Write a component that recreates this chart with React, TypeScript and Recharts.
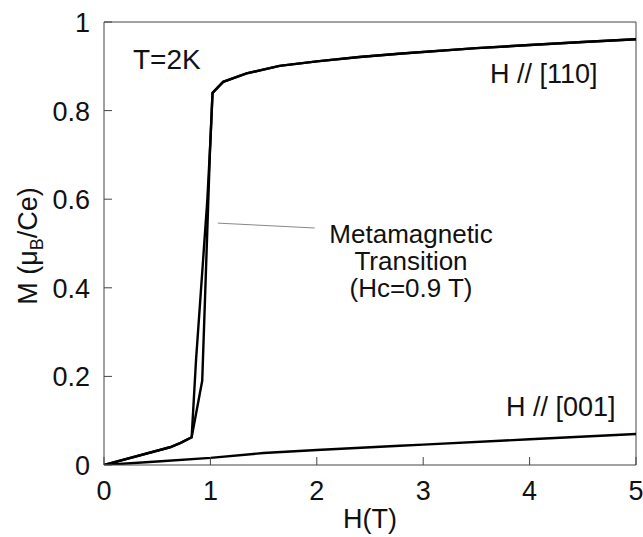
import { LineChart, Line, XAxis, YAxis, ReferenceLine } from 'recharts';

// H // [110], field-up sweep
const upH = [0, 0.62, 0.72, 0.824, 0.923, 0.95, 0.996, 1.02, 1.12, 1.34, 1.65, 2, 2.4, 2.8, 3.5, 4, 4.5, 5];
const upM = [0, 0.04, 0.05, 0.0625, 0.19, 0.38, 0.71, 0.84, 0.865, 0.884, 0.901, 0.911, 0.921, 0.929, 0.941, 0.948, 0.955, 0.961];

// H // [110], field-down sweep
const downH = [0, 0.62, 0.72, 0.824, 0.865, 0.971, 1.0, 1.02, 1.12, 1.34, 1.65, 2, 2.4, 2.8, 3.5, 4, 4.5, 5];
const downM = [0, 0.04, 0.05, 0.0625, 0.237, 0.598, 0.73, 0.84, 0.865, 0.884, 0.901, 0.911, 0.921, 0.929, 0.941, 0.948, 0.955, 0.961];

// H // [001]
const hardH = [0, 0.5, 1, 1.5, 2, 2.78, 3, 4, 5];
const hardM = [0, 0.008, 0.016, 0.027, 0.034, 0.0436, 0.046, 0.058, 0.07];

const xTicks = [0, 1, 2, 3, 4, 5];
const yTicks = [0, 0.2, 0.4, 0.6, 0.8, 1];
const noteLines = ['Metamagnetic', 'Transition', '(Hc=0.9 T)'];

const toRows = (hs: number[], ms: number[]) => hs.map((h, i) => ({ h, m: ms[i] }));

const FONT = '"Liberation Sans", Arial, Helvetica, sans-serif';
const AXIS = '#444';

const XTick = ({ x, y, payload }: any) => (
  <g>
    <line x1={x} y1={y} x2={x} y2={y - 8} stroke={AXIS} strokeWidth={1} />
    <text x={x} y={y + 35} textAnchor="middle" fontSize={27} fill="#111" fontFamily={FONT}>
      {payload.value}
    </text>
  </g>
);

const YTick = ({ x, y, payload }: any) => (
  <g>
    <line x1={x} y1={y} x2={x + 8} y2={y} stroke={AXIS} strokeWidth={1} />
    <text x={x - 14} y={y + 10} textAnchor="end" fontSize={27} fill="#111" fontFamily={FONT}>
      {payload.value}
    </text>
  </g>
);

export default function App() {
  return (
    <div style={{ position: 'absolute', left: 0, top: 0, background: '#fff' }}>
      <LineChart width={643} height={537} margin={{ top: 22, right: 7, left: 0, bottom: 0 }}>
        <XAxis
          type="number"
          dataKey="h"
          domain={[0, 5]}
          ticks={xTicks}
          tickSize={0}
          tickMargin={0}
          tickLine={false}
          tick={<XTick />}
          height={72}
          stroke={AXIS}
          allowDataOverflow
        />
        <YAxis
          type="number"
          dataKey="m"
          domain={[0, 1]}
          ticks={yTicks}
          tickSize={0}
          tickMargin={0}
          tickLine={false}
          tick={<YTick />}
          width={104}
          stroke={AXIS}
          allowDataOverflow
        />
        <ReferenceLine y={1} stroke={AXIS} strokeWidth={1} />
        <ReferenceLine x={5} stroke={AXIS} strokeWidth={1} />
        <ReferenceLine
          segment={[{ x: 1.07, y: 0.546 }, { x: 1.98, y: 0.535 }]}
          stroke="#888"
          strokeWidth={1}
        />
        <Line data={toRows(upH, upM)} dataKey="m" stroke="#000" strokeWidth={2.4} dot={false} isAnimationActive={false} />
        <Line data={toRows(downH, downM)} dataKey="m" stroke="#000" strokeWidth={2.4} dot={false} isAnimationActive={false} />
        <Line data={toRows(hardH, hardM)} dataKey="m" stroke="#000" strokeWidth={2.4} dot={false} isAnimationActive={false} />

        <text x={133} y={69} fontSize={28} fontFamily={FONT} fill="#111">T=2K</text>
        <text x={490} y={83} fontSize={27} fontFamily={FONT} fill="#111">H // [110]</text>
        <text x={506} y={416} fontSize={27} fontFamily={FONT} fill="#111">H // [001]</text>
        {/* one text block so the three lines sit tight like the original */}
        <text y={243} fontSize={26} fontFamily={FONT} fill="#111" textAnchor="middle">
          {noteLines.map((t, i) => (
            <tspan key={t} x={411} dy={i === 0 ? 0 : 27}>{t}</tspan>
          ))}
        </text>

        <text x={370} y={528} fontSize={27} fontFamily={FONT} fill="#111" textAnchor="middle">H(T)</text>
        <text transform="rotate(-90)" x={-246} y={37} fontSize={27} fontFamily={FONT} fill="#111" textAnchor="middle">
          M (<tspan>μ</tspan>
          <tspan dy={6} fontSize={18}>B</tspan>
          <tspan dy={-6}>/Ce)</tspan>
        </text>
      </LineChart>
    </div>
  );
}
